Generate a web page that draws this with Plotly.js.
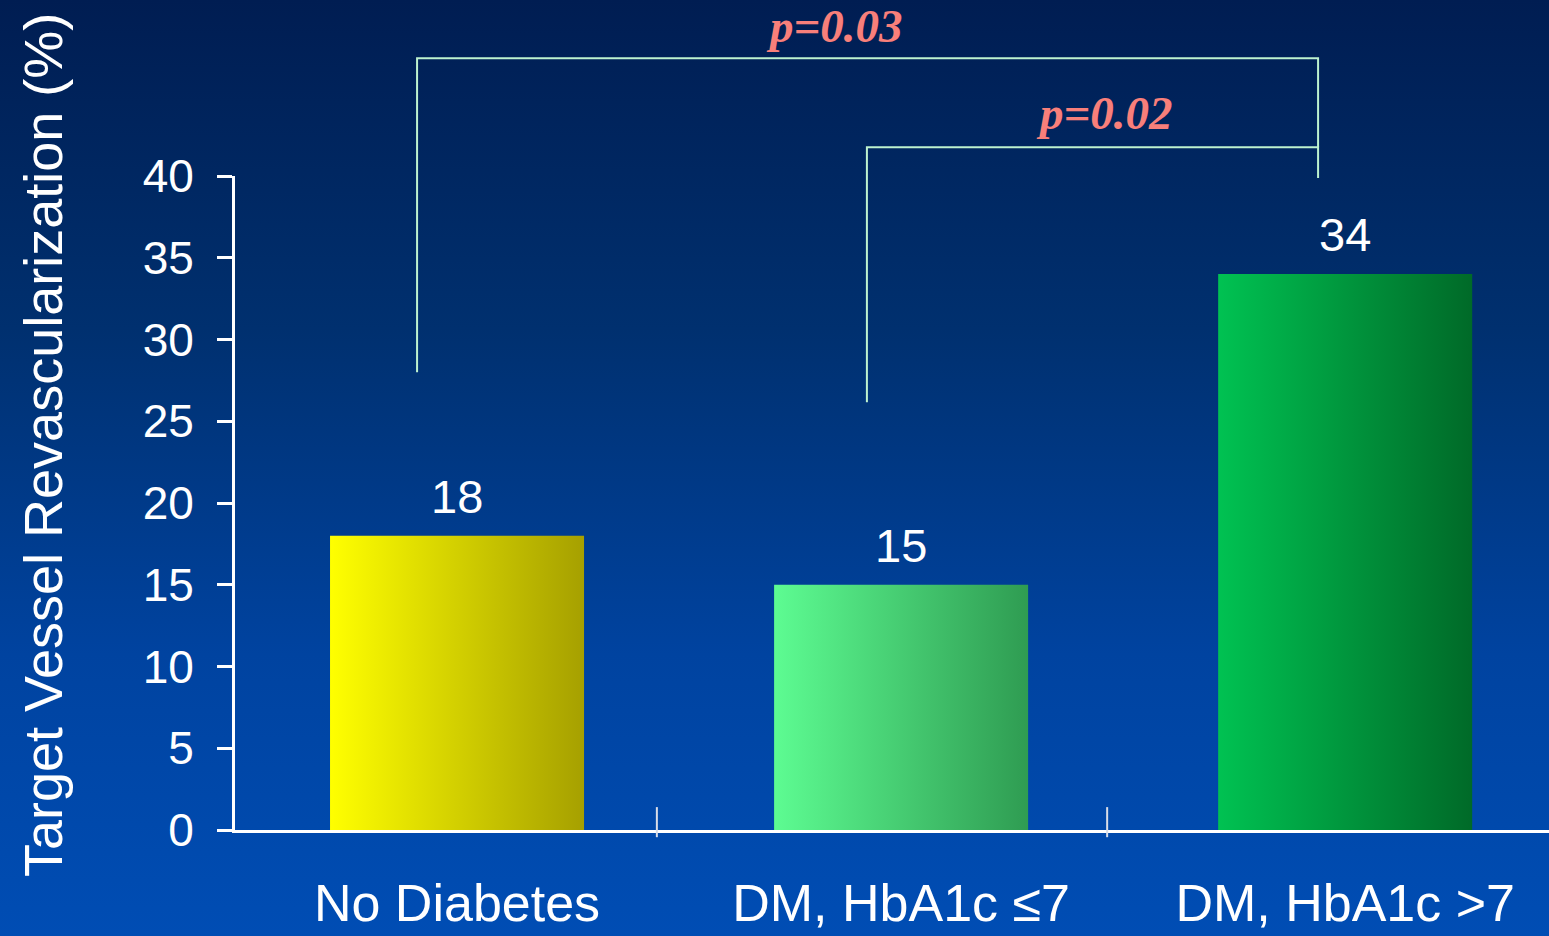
<!DOCTYPE html>
<html>
<head>
<meta charset="utf-8">
<script src="https://cdn.plot.ly/plotly-3.0.1.min.js"></script>
<style>
  html, body { margin: 0; padding: 0; }
  body {
    width: 1549px; height: 936px; overflow: hidden;
    background: linear-gradient(to bottom, #001d52 0%, #00306f 35%, #0043a0 70%, #004db4 100%);
  }
  #chart { width: 1549px; height: 936px; }
</style>
</head>
<body>
<div id="chart"></div>
<script>
// Target vessel revascularization by diabetes status
const categories = ['No Diabetes', 'DM, HbA1c \u22647', 'DM, HbA1c >7'];
const tvrPercent = [18, 15, 34];
const valueLabels = ['18', '15', '34'];
const yTickValues = [0, 5, 10, 15, 20, 25, 30, 35, 40];

// pairwise comparisons drawn as brackets above the bars
const pFrom = [0, 1];
const pTo = [2, 2];
const pLabels = ['p=0.03', 'p=0.02'];

// bar gradient stops (left -> right)
const barGradients = [
  ['#ffff00', '#a6a000'],
  ['#5dfc92', '#2f9c52'],
  ['#00c252', '#006a28']
];

const white = '#ffffff';
const bracketColor = '#bdf2cf';
const pColor = '#f87f7a';
const sans = 'Liberation Sans, Arial, sans-serif';
const serif = 'Liberation Serif, Times New Roman, serif';

const yMax = 40;

const trace = {
  type: 'bar',
  x: categories,
  y: tvrPercent,
  width: 0.572,
  marker: { color: barGradients.map(g => g[0]), line: { width: 0 } },
  hoverinfo: 'skip'
};

// bracket layout (x offsets from category centre, heights in paper units)
const bracketLeftOffset = [-0.09, -0.077];
const bracketRightOffset = [-0.061, -0.061];
const bracketTop = [1.180, 1.044];
const bracketLeftFoot = [0.700, 0.654];
const bracketRightFoot = [1.044, 0.997];
const pLabelX = [0.851, 1.459];
const pLabelY = [1.229, 1.096];

const shapes = [];
pFrom.forEach((f, i) => {
  const xl = f + bracketLeftOffset[i];
  const xr = pTo[i] + bracketRightOffset[i];
  shapes.push({
    type: 'path', xref: 'x', yref: 'paper',
    path: `M ${xl} ${bracketLeftFoot[i]} L ${xl} ${bracketTop[i]} L ${xr} ${bracketTop[i]} L ${xr} ${bracketRightFoot[i]}`,
    line: { color: bracketColor, width: 2 }
  });
});
// separators between categories on the baseline
[0.45, 1.464].forEach(xv => {
  shapes.push({
    type: 'line', xref: 'x', yref: 'paper',
    x0: xv, x1: xv, y0: -0.011, y1: 0.035,
    line: { color: '#d8dde8', width: 2 }
  });
});

const annotations = [];
// value labels above bars
categories.forEach((c, i) => {
  annotations.push({
    x: i, y: tvrPercent[i], xref: 'x', yref: 'y',
    text: valueLabels[i], showarrow: false,
    yanchor: 'bottom', yshift: 11,
    font: { family: sans, size: 47, color: white }
  });
});
// p-values
pLabels.forEach((t, i) => {
  annotations.push({
    x: pLabelX[i], y: pLabelY[i], xref: 'x', yref: 'paper',
    text: '<b><i>' + t + '</i></b>', showarrow: false,
    yanchor: 'middle',
    font: { family: serif, size: 47, color: pColor }
  });
});
// y-axis title
annotations.push({
  x: -0.171, y: 0.589, xref: 'paper', yref: 'paper',
  text: 'Target Vessel Revascularization (%)',
  textangle: -90, showarrow: false,
  font: { family: sans, size: 54, color: white }
});

const layout = {
  width: 1549, height: 936,
  margin: { l: 235, r: 0, t: 176, b: 106, pad: 0 },
  paper_bgcolor: 'rgba(0,0,0,0)',
  plot_bgcolor: 'rgba(0,0,0,0)',
  showlegend: false,
  xaxis: {
    type: 'category',
    range: [-0.5, 2.459],
    showline: true, linecolor: white, linewidth: 3,
    ticks: '', showgrid: false, zeroline: false,
    tickfont: { family: sans, size: 52, color: white },
    ticklabelstandoff: 26,
    fixedrange: true
  },
  yaxis: {
    range: [0, yMax],
    tickvals: yTickValues,
    showline: true, linecolor: white, linewidth: 3,
    ticks: 'outside', ticklen: 15, tickwidth: 3, tickcolor: white,
    showgrid: false, zeroline: false,
    tickfont: { family: sans, size: 46, color: white },
    ticklabelstandoff: 14,
    fixedrange: true
  },
  shapes: shapes,
  annotations: annotations
};

function applyGradients(gd) {
  const svg = gd.querySelector('.main-svg');
  let defs = svg.querySelector('defs');
  if (!defs) {
    defs = document.createElementNS('http://www.w3.org/2000/svg', 'defs');
    svg.insertBefore(defs, svg.firstChild);
  }
  barGradients.forEach((stops, i) => {
    const id = 'barfill' + i;
    const lg = document.createElementNS('http://www.w3.org/2000/svg', 'linearGradient');
    lg.setAttribute('id', id);
    lg.setAttribute('x1', '0'); lg.setAttribute('x2', '1');
    lg.setAttribute('y1', '0'); lg.setAttribute('y2', '0');
    stops.forEach((col, k) => {
      const s = document.createElementNS('http://www.w3.org/2000/svg', 'stop');
      s.setAttribute('offset', k === 0 ? '0' : '1');
      s.setAttribute('stop-color', col);
      lg.appendChild(s);
    });
    defs.appendChild(lg);
  });
  gd.querySelectorAll('.barlayer .point path').forEach((p, i) => {
    p.style.fill = 'url(#barfill' + i + ')';
  });
}

Plotly.newPlot('chart', [trace], layout, { displayModeBar: false, staticPlot: true })
  .then(applyGradients);
</script>
</body>
</html>
